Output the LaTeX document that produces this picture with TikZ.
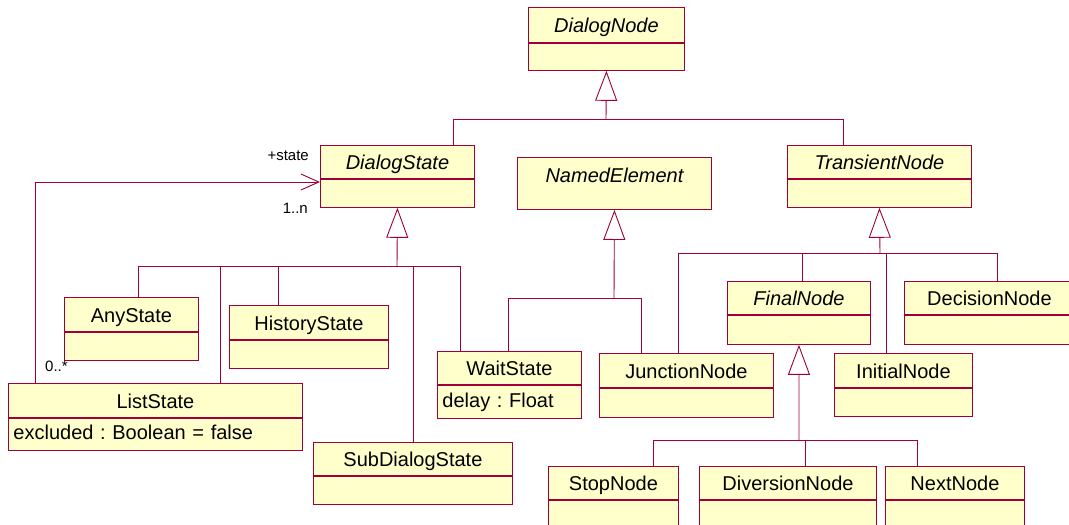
\documentclass[tikz,border=0pt]{standalone}
\usepackage{fontspec}
\setmainfont{Liberation Sans}
\frenchspacing
\usetikzlibrary{arrows.meta}
\definecolor{umlred}{RGB}{160,0,55}
\definecolor{umlfill}{RGB}{255,255,204}
\begin{document}
\begin{tikzpicture}[x=1pt, y=-1pt,
    cls/.style={draw=umlred, fill=umlfill, line width=0.9pt, inner sep=0pt,
        text height=16pt, text depth=0pt,
        anchor=north west, font=\fontsize{20}{24}\selectfont},
    abstractcls/.style={cls, font=\fontsize{20}{24}\selectfont\itshape},
    clsbody/.style={draw=umlred, fill=umlfill, line width=0.9pt, inner xsep=5pt,
        inner ysep=0pt, text height=15pt, text depth=4pt,
        anchor=north west, align=left,
        font=\fontsize{20}{24}\selectfont},
    link/.style={draw=umlred, line width=0.9pt},
    gen/.style={link, -{Triangle[open, length=30pt, width=22pt]}},
    assoc/.style={link, -{Straight Barb[length=18pt, width=16pt]}},
    mult/.style={font=\fontsize{15}{18}\selectfont, inner sep=0pt}]
    \useasboundingbox (0,0) rectangle (1069,525);
    \clip (0,0) rectangle (1069,525);

    % Classes
    \node [abstractcls, minimum width=156, minimum height=35] (dialognode) at (528,7) {DialogNode};
    \node [clsbody, text width=146, minimum height=27] (dialognode-b) at (dialognode.south west) {};
    \node [abstractcls, minimum width=154, minimum height=33] (dialogstate) at (320,145) {DialogState};
    \node [clsbody, text width=144, minimum height=28] (dialogstate-b) at (dialogstate.south west) {};
    \node [abstractcls, minimum width=194, minimum height=52, text depth=18pt] (namedelement) at (517,157) {NamedElement};
    \node [abstractcls, minimum width=184, minimum height=33] (transientnode) at (787,145) {TransientNode};
    \node [clsbody, text width=174, minimum height=28] (transientnode-b) at (transientnode.south west) {};

    \node [cls, minimum width=134, minimum height=34] (anystate) at (64,297) {AnyState};
    \node [clsbody, text width=124, minimum height=28] (anystate-b) at (anystate.south west) {};
    \node [cls, minimum width=159, minimum height=34] (historystate) at (229,305) {HistoryState};
    \node [clsbody, text width=149, minimum height=28] (historystate-b) at (historystate.south west) {};
    \node [cls, minimum width=294, minimum height=34] (liststate) at (8,383) {ListState};
    \node [clsbody, text width=284, minimum height=32] (liststate-b) at (liststate.south west) {excluded : Boolean = false};
    \node [cls, minimum width=144, minimum height=33] (waitstate) at (437,351) {WaitState};
    \node [clsbody, text width=134, minimum height=33] (waitstate-b) at (waitstate.south west) {delay : Float};
    \node [cls, minimum width=199, minimum height=33] (subdialogstate) at (313,442) {SubDialogState};
    \node [clsbody, text width=189, minimum height=28] (subdialogstate-b) at (subdialogstate.south west) {};

    \node [cls, minimum width=174, minimum height=34] (junctionnode) at (599,353) {JunctionNode};
    \node [clsbody, text width=164, minimum height=29] (junctionnode-b) at (junctionnode.south west) {};
    \node [abstractcls, minimum width=143, minimum height=33] (finalnode) at (727,281) {FinalNode};
    \node [clsbody, text width=133, minimum height=29] (finalnode-b) at (finalnode.south west) {};
    \node [cls, minimum width=170, minimum height=33] (decisionnode) at (904,281) {DecisionNode};
    \node [clsbody, text width=160, minimum height=29] (decisionnode-b) at (decisionnode.south west) {};
    \node [cls, minimum width=138, minimum height=34] (initialnode) at (834,353) {InitialNode};
    \node [clsbody, text width=128, minimum height=28] (initialnode-b) at (initialnode.south west) {};

    \node [cls, minimum width=130, minimum height=33] (stopnode) at (548,466) {StopNode};
    \node [clsbody, text width=120, minimum height=40] (stopnode-b) at (stopnode.south west) {};
    \node [cls, minimum width=177, minimum height=33] (diversionnode) at (699,466) {DiversionNode};
    \node [clsbody, text width=167, minimum height=40] (diversionnode-b) at (diversionnode.south west) {};
    \node [cls, minimum width=139, minimum height=33] (nextnode) at (885,466) {NextNode};
    \node [clsbody, text width=129, minimum height=40] (nextnode-b) at (nextnode.south west) {};

    % DialogNode generalization
    \coordinate (gnl) at (453,119);
    \coordinate (gnm) at (606,119);
    \coordinate (gnr) at (843,119);
    \draw [link] (gnl |- dialogstate.north) -- (gnl) -- (gnr) -- (gnr |- transientnode.north);
    \draw [gen] (gnm) -- (dialognode-b.south);

    % DialogState generalization
    \coordinate (sa) at (138,266);
    \coordinate (sl) at (220,266);
    \coordinate (sh) at (278,266);
    \coordinate (sg) at (397,266);
    \coordinate (sd) at (413,266);
    \coordinate (sw) at (460,266);
    \draw [gen] (sg) -- (dialogstate-b.south);
    \draw [link] (sa) -- (sw);
    \draw [link] (sa) -- (sa |- anystate.north);
    \draw [link] (sl) -- (sl |- liststate.north);
    \draw [link] (sh) -- (sh |- historystate.north);
    \draw [link] (sd) -- (sd |- subdialogstate.north);
    \draw [link] (sw) -- (sw |- waitstate.north);

    % NamedElement generalization
    \coordinate (nw) at (508,298);
    \coordinate (ng) at (614,298);
    \coordinate (nj) at (641,298);
    \draw [gen] (ng) -- (namedelement.south);
    \draw [link] (nw |- waitstate.north) -- (nw) -- (nj) -- (nj |- junctionnode.north);

    % TransientNode generalization
    \coordinate (tj) at (678,253);
    \coordinate (tf) at (802,253);
    \coordinate (tg) at (880,253);
    \coordinate (ti) at (886,253);
    \coordinate (td) at (997,253);
    \draw [gen] (tg) -- (transientnode-b.south);
    \draw [link] (tj |- junctionnode.north) -- (tj) -- (td) -- (td |- decisionnode.north);
    \draw [link] (tf) -- (tf |- finalnode.north);
    \draw [link] (ti) -- (ti |- initialnode.north);

    % FinalNode generalization
    \coordinate (fs) at (653,440);
    \coordinate (fg) at (799,440);
    \coordinate (fd) at (805,440);
    \coordinate (fn) at (917,440);
    \draw [gen] (fg) -- (finalnode-b.south);
    \draw [link] (fs |- stopnode.north) -- (fs) -- (fn) -- (fn |- nextnode.north);
    \draw [link] (fd) -- (fd |- diversionnode.north);

    % ListState association
    \coordinate (la) at (35,182);
    \draw [assoc] (la |- liststate.north) -- (la) -- (la -| dialogstate.west);
    \node [mult, anchor=east] (rolestate) at (309,156) {+state};
    \node [mult, anchor=east] (multstate) at (308,208) {1..n};
    \node [mult, anchor=west] (multlist) at (45,366) {0..*};
\end{tikzpicture}
\end{document}
